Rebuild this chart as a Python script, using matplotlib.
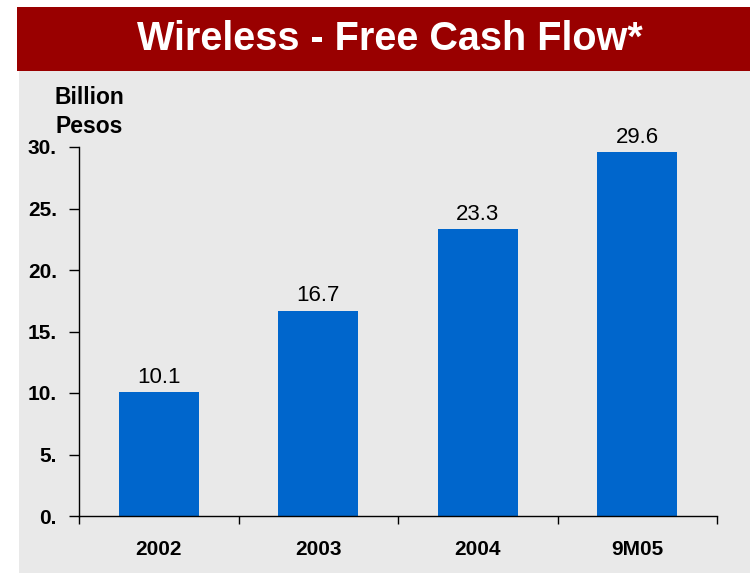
import matplotlib.pyplot as plt
from matplotlib.patches import Rectangle

# data -------------------------------------------------------------------------
periods = ['2002', '2003', '2004', '9M05']
fcf = [10.1, 16.7, 23.3, 29.6]  # billion pesos
yticks = [0, 5, 10, 15, 20, 25, 30]

plt.rcParams['font.family'] = ['Liberation Sans', 'DejaVu Sans']

fig = plt.figure(figsize=(7.5, 5.74), dpi=100)
fig.patch.set_facecolor('white')

# gray panel + red banner
fig.patches.append(Rectangle((19/750, 0.002), 1 - 19/750, 1 - 71/574 - 0.002,
                             transform=fig.transFigure, facecolor='#e9e9e9',
                             edgecolor='none', zorder=-10))
fig.patches.append(Rectangle((17/750, 1 - 71/574), 1 - 17/750, 64/574,
                             transform=fig.transFigure, facecolor='#990000',
                             edgecolor='none', zorder=-10))
fig.text(0.52, 1 - 39/574, 'Wireless - Free Cash Flow*', color='white',
         fontsize=28.5, fontweight='bold', ha='center', va='center')

ax = fig.add_axes([79/750, 1 - 516/574, (717 - 79)/750, (516 - 147)/574])
ax.set_facecolor('none')

x = list(range(len(periods)))
bars = ax.bar(x, fcf, width=0.5, color='#0066cc', zorder=2)
for xi, v in zip(x, fcf):
    ax.annotate(f'{v:.1f}', (xi, v), xytext=(0, 3), textcoords='offset points',
                ha='center', va='bottom', fontsize=16)

ax.set_xlim(-0.5, len(periods) - 0.5)
ax.set_ylim(0, 30)
ax.set_yticks(yticks)
ax.set_yticklabels([f'{t}.' for t in yticks], fontsize=15, fontweight='bold')
ax.tick_params(axis='y', direction='out', length=7, width=1, pad=9)

# category labels at centres, tick marks at the boundaries
ax.set_xticks(x)
ax.set_xticklabels(periods, fontsize=15, fontweight='bold')
ax.tick_params(axis='x', which='major', length=0, pad=17)
ax.set_xticks([i - 0.5 for i in range(len(periods) + 1)], minor=True)
ax.tick_params(axis='x', which='minor', direction='out', length=6, width=1)

for s in ['top', 'right']:
    ax.spines[s].set_visible(False)
ax.spines['left'].set_linewidth(1)
ax.spines['bottom'].set_linewidth(1)

fig.text(89/750, 1 - 112/574, 'Billion\nPesos', fontsize=16.5, fontweight='bold',
         ha='center', va='center', linespacing=1.3)

fig.savefig('out.png', dpi=100)
